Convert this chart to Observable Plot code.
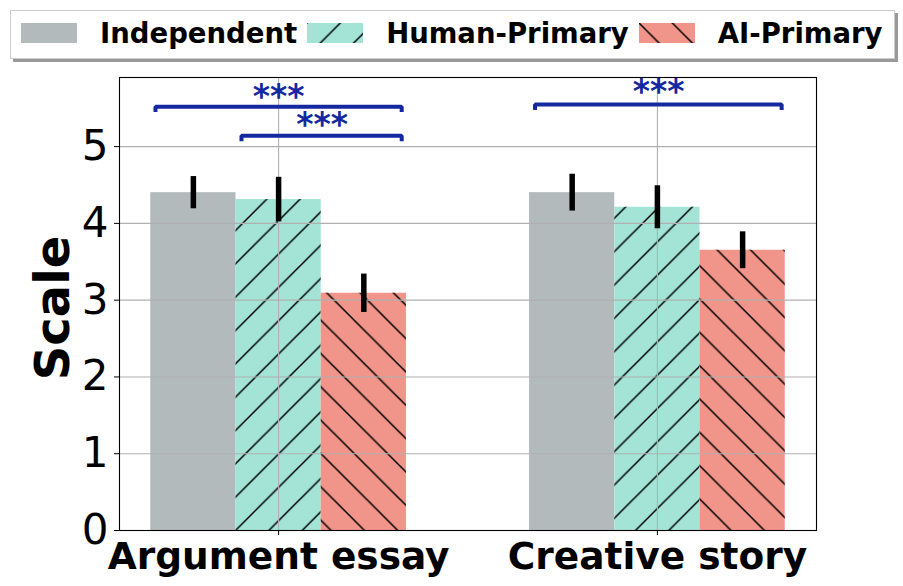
<!DOCTYPE html>
<html><head><meta charset="utf-8">
<script src="https://cdn.jsdelivr.net/npm/d3@7"></script>
<script src="https://cdn.jsdelivr.net/npm/@observablehq/plot@0.6"></script>
<style>
html,body{margin:0;padding:0;background:#fff;overflow:hidden}
#wrap{position:relative;width:903px;height:586px;font-family:"DejaVu Sans",sans-serif}
#legend{position:relative;height:66px}
#legbox{position:absolute;left:10px;top:10px;width:885px;height:49px;border:1px solid #cccccc;background:#fff;box-shadow:3px 3px 0 #999;display:flex;align-items:center;box-sizing:border-box;padding-left:10px;padding-bottom:3px}
.sw{width:56px;height:20px;margin-right:23px;display:block}
.lab{font-weight:bold;font-size:27.5px;margin-right:10px;color:#000;white-space:nowrap}
#chart svg{display:block}
</style></head>
<body>
<div id="wrap"><div id="legend"><div id="legbox"></div></div><div id="chart"></div></div>
<script>
// ---- data ----
const groups = ["Argument essay", "Creative story"];
const series = ["Independent", "Human-Primary", "AI-Primary"];
const colors = ["#B2BABB", "#A3E4D7", "#F1948A"];
const hatches = ["", "/", "\\"];
const independentMean = [4.40, 4.40];
const humanMean = [4.31, 4.21];
const aiMean = [3.09, 3.65];
const independentErr = [0.21, 0.24];
const humanErr = [0.29, 0.28];
const aiErr = [0.25, 0.24];
const yTicks = [0, 1, 2, 3, 4, 5];
const bracketX1 = [-0.325, -0.098, 0.677];
const bracketX2 = [0.325, 0.325, 1.328];
const bracketY = [5.52, 5.14, 5.547];
const starText = ["***", "***", "***"];
const starX = [0.0, 0.115, 1.003];
const starY = [5.64, 5.28, 5.705];

const sigColor = "#1428a0";
const W = 0.225;
const P = 33.33;

const means = [independentMean, humanMean, aiMean];
const errs = [independentErr, humanErr, aiErr];
const rows = [];
series.forEach((s, si) => groups.forEach((g, gi) =>
  rows.push({group: g, gi, series: s, si, value: means[si][gi], err: errs[si][gi]})));
const cx = d => d.gi + (d.si - 1) * W;

const bracketPts = [];
bracketY.forEach((y, i) => {
  const h = 0.07;
  bracketPts.push({i, x: bracketX1[i], y: y - h}, {i, x: bracketX1[i], y}, {i, x: bracketX2[i], y}, {i, x: bracketX2[i], y: y - h});
});
const stars = starText.map((t, i) => ({t, x: starX[i], y: starY[i]}));

function hatchPath(h) {
  if (h === "/") return `M-1,1 L1,-1 M0,${P} L${P},0 M${P-1},${P+1} L${P+1},${P-1}`;
  return `M-1,${P-1} L1,${P+1} M0,0 L${P},${P} M${P-1},-1 L${P+1},1`;
}
function patternDef(id, h) {
  return `<pattern id="${id}" patternUnits="userSpaceOnUse" width="${P}" height="${P}"><path d="${hatchPath(h)}" stroke="#000" stroke-width="1.5" fill="none"/></pattern>`;
}

// ---- legend ----
const legbox = document.getElementById("legbox");
series.forEach((s, si) => {
  const sw = document.createElementNS("http://www.w3.org/2000/svg", "svg");
  sw.setAttribute("class", "sw");
  sw.setAttribute("width", 56); sw.setAttribute("height", 20);
  let inner = `<rect width="56" height="20" fill="${colors[si]}"/>`;
  if (hatches[si]) inner = `<defs>${patternDef("lg" + si, hatches[si])}</defs>` + inner + `<rect width="56" height="20" fill="url(#lg${si})"/>`;
  sw.innerHTML = inner;
  legbox.appendChild(sw);
  const lab = document.createElement("span");
  lab.className = "lab";
  lab.textContent = s;
  legbox.appendChild(lab);
});

// ---- chart ----
const marks = [];
series.forEach((s, si) => {
  const data = rows.filter(d => d.si === si);
  marks.push(Plot.rect(data, {x1: d => cx(d) - W / 2, x2: d => cx(d) + W / 2, y1: 0, y2: "value", fill: colors[si]}));
  if (hatches[si]) marks.push(Plot.rect(data, {x1: d => cx(d) - W / 2, x2: d => cx(d) + W / 2, y1: 0, y2: "value", fill: `url(#hatch-${si})`}));
});
marks.push(
  Plot.gridY(yTicks, {stroke: "#b0b0b0", strokeOpacity: 1, strokeWidth: 1.1}),
  Plot.gridX([0, 1], {stroke: "#b0b0b0", strokeOpacity: 1, strokeWidth: 1.1}),
  Plot.ruleX(rows, {x: cx, y1: d => d.value - d.err, y2: d => d.value + d.err, stroke: "black", strokeWidth: 5.5}),
  Plot.line(bracketPts, {x: "x", y: "y", z: "i", stroke: sigColor, strokeWidth: 4, strokeLinejoin: "miter", strokeLinecap: "butt"}),
  Plot.text(stars, {x: "x", y: "y", text: "t", fontSize: 33, fontWeight: "bold", fill: sigColor}),
  Plot.axisY({ticks: yTicks, tickFormat: d => String(d), tickSize: 5, tickPadding: 6, fontSize: 42, label: null}),
  Plot.axisX({ticks: [0, 1], tickFormat: d => groups[d], tickSize: 5, tickPadding: 7, fontSize: 37.5, fontWeight: "bold", label: null}),
  Plot.text(["Scale"], {frameAnchor: "left", textAnchor: "middle", rotate: -90, dx: -66, dy: 4, fontSize: 48, fontWeight: "bold", fill: "black"}),
  Plot.frame({stroke: "black", strokeWidth: 1.1})
);

const svg = Plot.plot({
  width: 903,
  height: 520,
  marginLeft: 119,
  marginRight: 87,
  marginTop: 11,
  marginBottom: 56,
  x: {type: "linear", domain: [-0.42, 1.42]},
  y: {domain: [0, 5.9]},
  style: {fontFamily: "DejaVu Sans", color: "black", background: "white", overflow: "visible"},
  marks
});
d3.select(svg).insert("defs", ":first-child").html(
  series.map((s, si) => hatches[si] ? patternDef("hatch-" + si, hatches[si]) : "").join(""));
document.getElementById("chart").appendChild(svg);
</script>
</body></html>
